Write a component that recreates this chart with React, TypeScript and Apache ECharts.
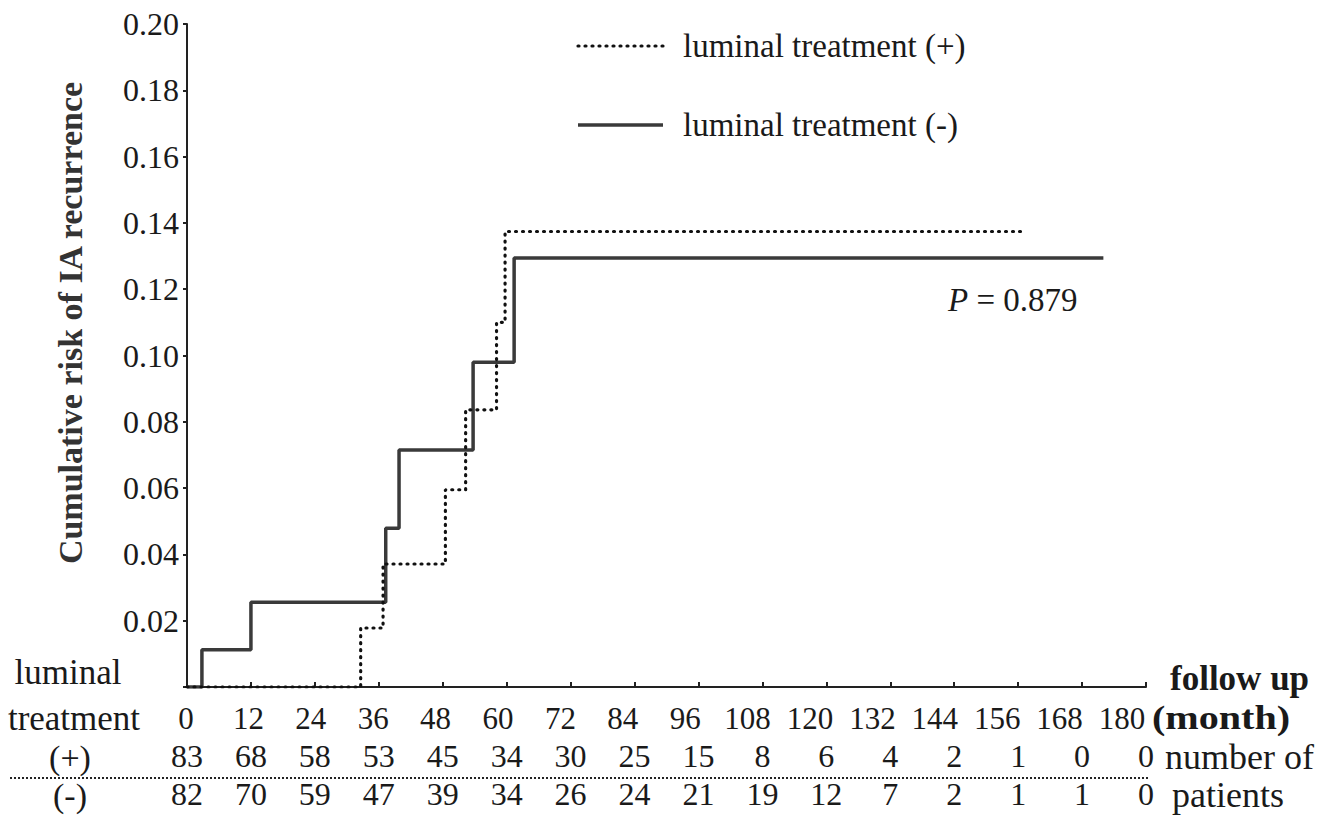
import React, { useEffect, useRef } from "react";
import * as echarts from "echarts";

// Tick labels (months) and numbers at risk
const monthTicks = [0, 12, 24, 36, 48, 60, 72, 84, 96, 108, 120, 132, 144, 156, 168, 180];
const plusAtRisk = [83, 68, 58, 53, 45, 34, 30, 25, 15, 8, 6, 4, 2, 1, 0, 0];
const minusAtRisk = [82, 70, 59, 47, 39, 34, 26, 24, 21, 19, 12, 7, 2, 1, 1, 0];

// Cumulative risk curves (time in months, cumulative risk)
const plusTimes = [0, 32.6, 36.8, 48.5, 52.3, 58.1, 59.7, 157];
const plusRisk = [0, 0.0178, 0.0371, 0.0595, 0.0836, 0.11, 0.1374, 0.1374];
const minusTimes = [0, 2.8, 12, 37.3, 39.8, 53.7, 61.4, 172];
const minusRisk = [0, 0.0112, 0.0256, 0.0479, 0.0715, 0.098, 0.1294, 0.1294];

const seriesNames = ["luminal treatment (+)", "luminal treatment (-)"];
const pValueText = "0.879";

const FONT = "Liberation Serif";
const INK = "#1a1a1a";

export default function App() {
  const ref = useRef<HTMLDivElement>(null);

  useEffect(() => {
    if (!ref.current) return;
    const chart = echarts.init(ref.current, null, { renderer: "svg" });

    const plusData = plusTimes.map((t, i) => [t, plusRisk[i]]);
    const minusData = minusTimes.map((t, i) => [t, minusRisk[i]]);

    const baseX = {
      type: "value",
      min: 0,
      max: 180,
      interval: 12,
      splitLine: { show: false },
    };
    const hidden = { axisLine: { show: false }, axisTick: { show: false } };
    const labelStyle = { fontFamily: FONT, fontSize: 31, color: INK };
    const countStyle = { fontFamily: FONT, fontSize: 32, color: INK };

    const txt = (text: string, x: number, y: number, extra: any = {}, sx = 1) => ({
      type: "text",
      x,
      y,
      scaleX: sx,
      style: { text, fontFamily: FONT, fontSize: 33, fill: INK, align: "left", verticalAlign: "middle", ...extra },
    });

    const option: any = {
      animation: false,
      grid: [
        { left: 187, right: 182, top: 24, bottom: 128, containLabel: false },
        // grid used only for the month tick labels row (slightly narrower spacing as in the original)
        { left: 186, width: 936, top: 24, bottom: 128, containLabel: false },
      ],
      xAxis: [
        {
          ...baseX,
          gridIndex: 0,
          axisLine: { show: true, lineStyle: { color: "#222", width: 2 } },
          axisTick: { show: true, inside: true, length: 5, lineStyle: { color: "#222", width: 2 } },
          axisLabel: { show: false },
        },
        {
          ...baseX,
          ...hidden,
          gridIndex: 1,
          position: "bottom",
          axisLabel: { ...labelStyle, margin: 16, formatter: (v: number) => String(v) },
        },
        {
          ...baseX,
          ...hidden,
          gridIndex: 0,
          position: "bottom",
          offset: 39,
          axisLabel: {
            ...countStyle,
            margin: 14,
            formatter: (v: number) => String(plusAtRisk[monthTicks.indexOf(v)] ?? ""),
          },
        },
        {
          ...baseX,
          ...hidden,
          gridIndex: 0,
          position: "bottom",
          offset: 77,
          axisLabel: {
            ...countStyle,
            margin: 14,
            formatter: (v: number) => String(minusAtRisk[monthTicks.indexOf(v)] ?? ""),
          },
        },
      ],
      yAxis: [
        {
          type: "value",
          gridIndex: 0,
          min: 0,
          max: 0.2,
          interval: 0.02,
          splitLine: { show: false },
          axisLine: { show: true, lineStyle: { color: "#222", width: 2 } },
          axisTick: { show: true, length: 4, lineStyle: { color: "#222", width: 2 } },
          axisLabel: {
            ...labelStyle,
            fontSize: 32,
            margin: 8,
            formatter: (v: number) => (v === 0 ? "" : v.toFixed(2)),
          },
        },
        {
          type: "value",
          gridIndex: 1,
          min: 0,
          max: 0.2,
          show: false,
        },
      ],
      series: [
        {
          name: seriesNames[0],
          type: "line",
          step: "end",
          xAxisIndex: 0,
          yAxisIndex: 0,
          data: plusData,
          symbol: "none",
          lineStyle: { color: "#111", width: 3.2, type: [1, 6], cap: "round" },
          z: 3,
        },
        {
          name: seriesNames[1],
          type: "line",
          step: "end",
          xAxisIndex: 0,
          yAxisIndex: 0,
          data: minusData,
          symbol: "none",
          lineStyle: { color: "#3a3a3a", width: 3.5 },
          z: 2,
        },
      ],
      graphic: [
        {
          type: "text",
          x: 70,
          y: 323,
          rotation: Math.PI / 2,
          style: {
            text: "Cumulative risk of IA recurrence",
            fontFamily: FONT,
            fontSize: 34,
            fontWeight: "bold",
            fill: "#333",
            align: "center",
            verticalAlign: "middle",
          },
        },
        // legend
        {
          type: "line",
          shape: { x1: 578, y1: 46, x2: 663, y2: 46 },
          style: { stroke: "#111", lineWidth: 3.2, lineDash: [1, 6], lineCap: "round" },
        },
        txt(seriesNames[0], 683, 46),
        {
          type: "line",
          shape: { x1: 578, y1: 125, x2: 663, y2: 125 },
          style: { stroke: "#3a3a3a", lineWidth: 3.5 },
        },
        txt(seriesNames[1], 683, 125),
        {
          type: "text",
          x: 948,
          y: 300,
          style: {
            text: "{i|P} = " + pValueText,
            fontFamily: FONT,
            fontSize: 33,
            fill: INK,
            verticalAlign: "middle",
            rich: { i: { fontStyle: "italic", fontFamily: FONT, fontSize: 33, fill: INK } },
          },
        },
        txt("luminal", 68, 672, { align: "center", fontSize: 35 }),
        txt("treatment", 74, 718, { align: "center", fontSize: 35 }),
        txt("(+)", 70, 757, { align: "center", fontSize: 34 }),
        txt("(-)", 70, 795, { align: "center", fontSize: 34 }),
        txt("follow up", 1170, 678, { fontWeight: "bold", fontSize: 35 }),
        txt("(month)", 1152, 718, { fontWeight: "bold", fontSize: 34 }, 1.18),
        txt("number of", 1165, 757, { fontSize: 36 }),
        txt("patients", 1172, 795, { fontSize: 36 }),
        {
          type: "line",
          shape: { x1: 10, y1: 778, x2: 1150, y2: 778 },
          style: { stroke: "#222", lineWidth: 2, lineDash: [2, 2] },
        },
      ],
    };

    chart.setOption(option);
    return () => chart.dispose();
  }, []);

  return (
    <div
      ref={ref}
      style={{ position: "absolute", left: 0, top: 0, width: 1328, height: 815, background: "#fff" }}
    />
  );
}
